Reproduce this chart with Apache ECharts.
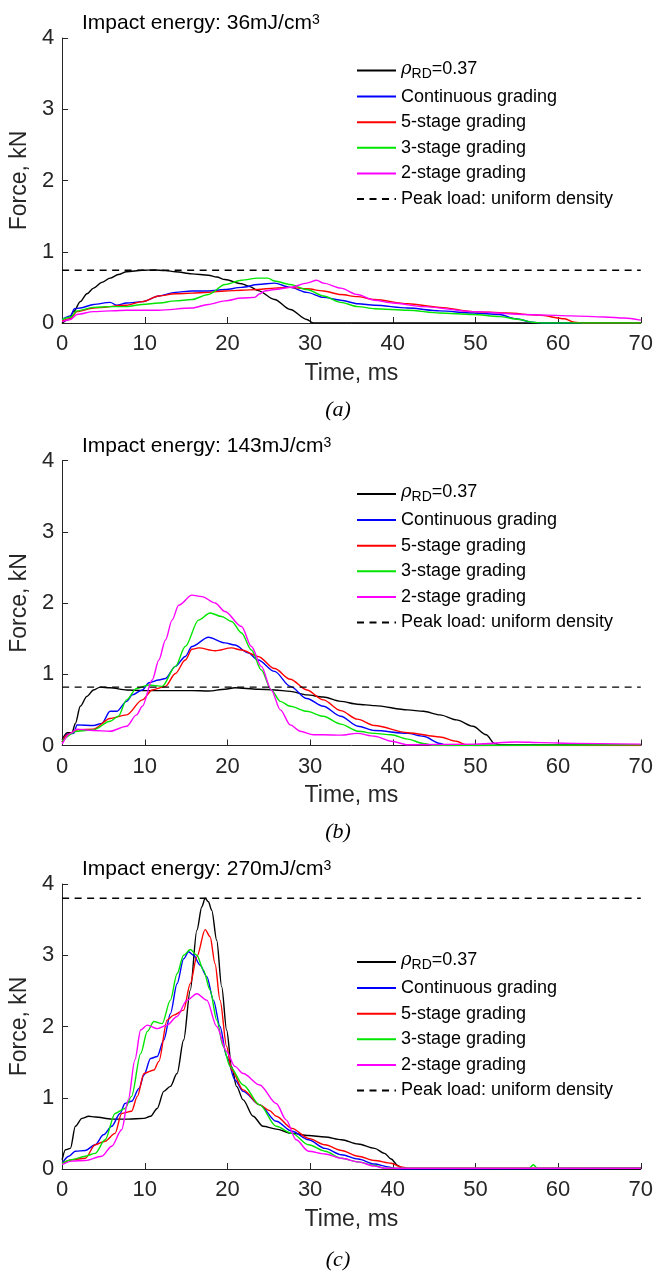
<!DOCTYPE html>
<html>
<head>
<meta charset="utf-8">
<script src="https://cdn.jsdelivr.net/npm/echarts/dist/echarts.min.js"></script>
<style>
html,body{margin:0;padding:0;background:#fff;}
#chart{width:656px;height:1273px;}
</style>
</head>
<body>
<div id="chart"></div>
<script>
// ---------- DATA ----------
const xTicks = [0, 10, 20, 30, 40, 50, 60, 70];
const yTicks = [0, 1, 2, 3, 4];
const seriesNames = ['rho', 'Continuous grading', '5-stage grading', '3-stage grading', '2-stage grading', 'Peak load: uniform density'];
const panelTitles = ['36', '143', '270'];
const panelCaptions = ['(a)', '(b)', '(c)'];
const peakLoads = [0.74, 0.82, 3.8];

// Panel (a): 36 mJ/cm3
const aBlack = [[0,0],[0.8,0.05],[1.4,0.16],[2.2,0.30],[3,0.41],[3.8,0.49],[4.8,0.57],[5.8,0.63],[6.8,0.68],[7.8,0.72],[9.7,0.74],[11,0.745],[12.5,0.735],[13.7,0.72],[15.7,0.69],[17.7,0.67],[18.7,0.645],[19.7,0.61],[21.7,0.55],[22.7,0.51],[23.7,0.455],[25.7,0.33],[27.6,0.19],[29.6,0.05],[30.4,0],[70,0]];
const aBlue = [[0,0.05],[1,0.1],[1.5,0.2],[2.2,0.21],[3.8,0.26],[5.8,0.29],[6.6,0.25],[7.8,0.28],[9.7,0.30],[11.7,0.38],[13.7,0.43],[15.7,0.45],[17.7,0.45],[19.7,0.47],[21.7,0.50],[23.7,0.54],[25.7,0.56],[27.6,0.50],[29.6,0.43],[31.6,0.36],[33.7,0.32],[35.8,0.27],[37.8,0.25],[41.8,0.21],[45.7,0.17],[49.7,0.14],[52.9,0.12],[54.9,0.06],[56.9,0.01],[58,0],[70,0]];
const aRed = [[0,0.03],[1,0.06],[1.8,0.16],[3.8,0.21],[7.8,0.25],[9.7,0.30],[11.7,0.38],[13.7,0.41],[15.7,0.42],[17.7,0.43],[19.7,0.45],[21.7,0.46],[23.7,0.47],[25.7,0.49],[27.6,0.50],[29.6,0.48],[31.6,0.45],[33.7,0.40],[35.7,0.37],[37.8,0.33],[41.8,0.27],[45.7,0.22],[49.7,0.16],[53.7,0.14],[57.7,0.11],[60.8,0.06],[62,0.01],[63,0],[70,0]];
const aGreen = [[0,0.05],[1,0.08],[1.8,0.17],[3.8,0.22],[5.8,0.23],[7.8,0.23],[9.7,0.26],[11.7,0.28],[13.7,0.31],[15.7,0.33],[17.7,0.40],[19.7,0.54],[21.7,0.60],[23.7,0.63],[24.9,0.63],[25.7,0.59],[27.6,0.54],[29.6,0.47],[31.6,0.38],[33.7,0.29],[35.8,0.23],[37.8,0.20],[41.8,0.18],[45.7,0.14],[49.7,0.12],[52.9,0.09],[55.3,0.05],[56.9,0.01],[58,0],[70,0]];
const aMagenta = [[0,0.02],[1,0.05],[1.8,0.12],[3.8,0.16],[7.8,0.18],[11.7,0.18],[15.7,0.21],[17.7,0.26],[19.7,0.31],[21.7,0.35],[23.3,0.36],[23.9,0.41],[24.5,0.45],[25.7,0.47],[27.6,0.50],[29.6,0.56],[30.8,0.60],[31.6,0.56],[33.7,0.49],[35.7,0.40],[37.8,0.32],[40,0.28],[43.7,0.23],[49.7,0.16],[55.7,0.12],[61.6,0.10],[65.6,0.085],[68,0.07],[70,0.04]];

// Panel (b): 143 mJ/cm3
const bBlack = [[0,0.08],[0.6,0.18],[1.2,0.18],[1.6,0.31],[2.2,0.55],[3,0.69],[3.8,0.78],[4.6,0.82],[5.8,0.81],[7.8,0.78],[9.7,0.77],[11.7,0.77],[15.7,0.77],[17.7,0.765],[19.7,0.79],[20.9,0.81],[23.7,0.79],[25.7,0.78],[27.6,0.76],[29.6,0.71],[31.6,0.68],[33.7,0.62],[35.7,0.58],[37.8,0.56],[41.8,0.50],[43.7,0.48],[45.7,0.43],[47.7,0.36],[49.7,0.27],[51.3,0.15],[52.3,0.03],[53,0.01],[70,0.01]];
const bBlue = [[0,0.05],[0.6,0.16],[1.4,0.17],[1.8,0.29],[3.8,0.28],[4.8,0.31],[5.8,0.48],[6.6,0.48],[7.8,0.62],[8.5,0.71],[9.7,0.78],[10.5,0.88],[11.7,0.92],[12.5,0.94],[13.7,1.11],[14.9,1.25],[15.7,1.39],[17.7,1.52],[19.7,1.44],[20.9,1.41],[22.5,1.30],[23.7,1.20],[25.7,1.04],[27.6,0.83],[29.6,0.66],[31.6,0.55],[33.7,0.41],[35.8,0.27],[37.8,0.21],[41.8,0.17],[43.7,0.13],[45.7,0.03],[46.5,0],[70,0.01]];
const bRed = [[0,0.05],[0.6,0.15],[1.8,0.22],[3.8,0.23],[5.8,0.38],[7.8,0.43],[9.7,0.64],[10.9,0.78],[12.5,0.83],[13.7,1.01],[14.9,1.20],[15.7,1.35],[16.5,1.37],[18.5,1.33],[20.5,1.37],[21.7,1.34],[23.7,1.25],[25.7,1.08],[27.6,0.93],[29.6,0.78],[31.6,0.64],[33.7,0.49],[35.7,0.37],[37.8,0.28],[41.8,0.18],[45.7,0.12],[47.7,0.06],[48.9,0.01],[50,0],[70,0]];
const bGreen = [[0,0.06],[1.8,0.20],[3.8,0.22],[5.8,0.34],[6.8,0.41],[7.8,0.64],[9,0.80],[10.5,0.85],[12.1,0.83],[13.7,1.11],[14.9,1.39],[16.5,1.76],[17.9,1.86],[19.3,1.81],[20.5,1.74],[21.7,1.58],[22.9,1.34],[24.1,1.06],[25.3,0.78],[26.4,0.62],[27.6,0.55],[29.6,0.48],[31.6,0.41],[33.7,0.30],[35.8,0.20],[37.8,0.17],[39.8,0.15],[41.8,0.09],[43.7,0.03],[45,0],[70,0.01]];
const bMagenta = [[0,0.02],[1,0.17],[1.8,0.23],[3.8,0.21],[5.8,0.20],[7.8,0.27],[9,0.43],[9.7,0.55],[10.9,0.92],[11.7,1.20],[12.5,1.48],[13.3,1.76],[14.1,1.97],[15.7,2.11],[16.9,2.09],[18.5,2.0],[19.7,1.88],[21.7,1.67],[22.9,1.39],[24.1,1.11],[25.3,0.78],[26.4,0.50],[27.6,0.29],[28.8,0.20],[30.4,0.15],[31.6,0.15],[33.7,0.145],[35.7,0.17],[37.8,0.13],[39.8,0.06],[41.8,0.01],[50,0.02],[55,0.05],[58,0.04],[62,0.03],[70,0.02]];

// Panel (c): 270 mJ/cm3
const cBlack = [[0,0.13],[0.4,0.27],[1,0.29],[1.6,0.60],[2.4,0.71],[3.2,0.74],[4,0.73],[6,0.70],[8,0.70],[9.9,0.71],[10.7,0.74],[11.5,0.85],[12.3,1.09],[13.1,1.16],[13.9,1.34],[14.7,1.81],[15.5,2.51],[16.3,3.35],[16.9,3.68],[17.3,3.8],[17.7,3.75],[18.1,3.63],[18.7,3.21],[19.3,2.56],[19.9,1.95],[20.5,1.44],[21.1,1.16],[21.9,0.97],[23.1,0.74],[24.3,0.60],[25.9,0.56],[27.8,0.50],[29.8,0.47],[31.8,0.45],[33.8,0.41],[35.8,0.35],[37.8,0.29],[39,0.22],[39.8,0.14],[40.6,0.05],[41.2,0],[70,0]];
const cBlue = [[0,0.08],[0.8,0.18],[1.6,0.25],[2.8,0.26],[4,0.34],[5,0.48],[6,0.60],[7,0.78],[7.6,0.92],[8.4,0.95],[9.3,1.13],[9.9,1.32],[10.7,1.55],[11.5,1.58],[12.3,1.81],[13.1,2.18],[13.9,2.60],[14.7,2.95],[15.3,3.05],[15.9,3.0],[16.7,2.86],[17.5,2.70],[18.3,2.37],[19.1,2.0],[19.9,1.58],[20.9,1.25],[21.9,1.09],[23.9,0.90],[25.9,0.67],[27.8,0.53],[29.8,0.41],[31.8,0.29],[33.8,0.20],[35.8,0.14],[37.8,0.07],[39.4,0.03],[40.5,0],[70,0.01]];
const cRed = [[0,0.08],[1.2,0.13],[2.8,0.15],[4,0.34],[5.2,0.39],[6.4,0.50],[7.2,0.78],[8.4,0.81],[9.1,1.02],[9.9,1.34],[11.1,1.39],[11.7,1.51],[12.7,2.09],[13.5,2.16],[14.7,2.23],[15.5,2.60],[16.3,2.98],[17.3,3.36],[17.9,3.26],[18.5,2.88],[19.1,2.37],[19.9,1.72],[20.5,1.39],[21.9,1.11],[23.9,0.90],[25.1,0.82],[25.9,0.74],[27.8,0.57],[29.8,0.43],[31.8,0.34],[33.8,0.26],[35.8,0.18],[37.8,0.12],[39.8,0.08],[41,0.03],[42,0.01],[70,0.01]];
const cGreen = [[0,0.08],[1.2,0.13],[2.8,0.18],[4,0.22],[5.2,0.41],[6.4,0.78],[7.6,0.85],[8.4,1.02],[9.5,1.62],[10.3,1.93],[11.1,2.07],[12.1,2.04],[13.1,2.37],[13.9,2.74],[14.7,3.0],[15.5,3.08],[16.3,3.0],[17.1,2.79],[17.9,2.51],[18.7,2.09],[19.5,1.72],[20.3,1.44],[21.9,1.18],[23.9,0.90],[25.9,0.60],[27.8,0.50],[29.8,0.34],[31.8,0.25],[33.8,0.15],[35.8,0.10],[37.8,0.05],[39,0.01],[56.5,0.01],[57,0.06],[57.5,0.01],[70,0.01]];
const cMagenta = [[0,0.06],[1.2,0.11],[2.8,0.12],[4.8,0.18],[6,0.32],[7.2,0.55],[8,0.97],[8.8,1.53],[9.5,1.95],[10.3,2.02],[11.5,1.97],[12.7,2.02],[13.9,2.14],[15.1,2.37],[16.3,2.46],[17.5,2.37],[18.7,2.0],[19.9,1.65],[20.9,1.44],[21.9,1.34],[23.9,1.18],[25.9,0.92],[27.1,0.69],[28.3,0.41],[29.8,0.25],[31.8,0.21],[33.8,0.15],[35.8,0.10],[37.8,0.04],[39,0.01],[70,0.01]];

const panels = [
  [aBlack, aBlue, aRed, aGreen, aMagenta],
  [bBlack, bBlue, bRed, bGreen, bMagenta],
  [cBlack, cBlue, cRed, cGreen, cMagenta]
];

// ---------- STYLE / LAYOUT ----------
const colors = ['#000000', '#0000ff', '#ff0000', '#00e600', '#ff00ff', '#000000'];
const gridTops = [38, 460.5, 884];
const gridHeight = 285;
const gridLeft = 57, gridWidth = 587.5;
const legendTops = [53, 476.5, 944.5];
const titleTops = [13, 436, 859];
const captionY = [410, 832, 1260];
const axisColor = '#262626';
const sans = 'Liberation Sans, Arial, Helvetica, sans-serif';

const chart = echarts.init(document.getElementById('chart'), null, {renderer: 'canvas'});

const grids = [], xAxes = [], yAxes = [], series = [], legends = [], titles = [], graphics = [];

for (let p = 0; p < 3; p++) {
  grids.push({left: gridLeft, top: gridTops[p], width: gridWidth, height: gridHeight, containLabel: false});
  xAxes.push({
    type: 'value', gridIndex: p, min: xTicks[0], max: xTicks[xTicks.length - 1], interval: 10,
    name: 'Time, ms', nameLocation: 'middle', nameGap: 39,
    nameTextStyle: {fontFamily: sans, fontSize: 23, color: axisColor},
    axisLine: {show: true, onZero: false, lineStyle: {color: axisColor, width: 1}},
    axisTick: {show: true, inside: true, length: 6, lineStyle: {color: axisColor}},
    axisLabel: {fontFamily: sans, fontSize: 22, color: axisColor, margin: 10},
    splitLine: {show: false}
  });
  yAxes.push({
    type: 'value', gridIndex: p, min: yTicks[0], max: yTicks[yTicks.length - 1], interval: 1,
    name: 'Force, kN', nameLocation: 'middle', nameGap: 13,
    nameTextStyle: {fontFamily: sans, fontSize: 23, color: axisColor},
    axisLine: {show: true, lineStyle: {color: axisColor, width: 1}},
    axisTick: {show: true, inside: true, length: 6, lineStyle: {color: axisColor}},
    axisLabel: {fontFamily: sans, fontSize: 22, color: axisColor, margin: 8},
    splitLine: {show: false}
  });
  const curves = panels[p];
  for (let s = 0; s < 5; s++) {
    series.push({
      type: 'line', name: seriesNames[s], xAxisIndex: p, yAxisIndex: p,
      data: curves[s], symbol: 'none', smooth: 0.3, smoothMonotone: 'x',
      lineStyle: {color: colors[s], width: 1.4}, itemStyle: {color: colors[s]},
      silent: true
    });
  }
  series.push({
    type: 'line', name: seriesNames[5], xAxisIndex: p, yAxisIndex: p,
    data: [[xTicks[0], peakLoads[p]], [xTicks[xTicks.length - 1], peakLoads[p]]],
    symbol: 'none', lineStyle: {color: '#000', width: 1.4, type: [7, 5.5]}, itemStyle: {color: '#000'},
    silent: true
  });
  legends.push({
    orient: 'vertical', left: 356, top: legendTops[p], padding: 0, itemGap: 5.6,
    itemWidth: 39, itemHeight: 14, selectedMode: false,
    itemStyle: {opacity: 0},
    data: seriesNames,
    formatter: function (n) { return n === 'rho' ? '{r|\u03c1}{s|RD}{n|=0.37}' : n; },
    textStyle: {
      fontFamily: sans, fontSize: 18, color: '#000', lineHeight: 20, padding: [0, 0, 0, 0],
      rich: {
        r: {fontFamily: 'DejaVu Serif, Liberation Serif, serif', fontStyle: 'italic', fontSize: 18, lineHeight: 21, verticalAlign: 'top', color: '#000'},
        s: {fontFamily: sans, fontSize: 14, lineHeight: 14, padding: [14, 0, 0, 0], verticalAlign: 'bottom', color: '#000'},
        n: {fontFamily: sans, fontSize: 18, lineHeight: 21, verticalAlign: 'top', color: '#000'}
      }
    }
  });
  titles.push({
    text: '{t|Impact energy: ' + panelTitles[p] + 'mJ/cm}{s|3}',
    left: 82, top: titleTops[p], padding: 0,
    textStyle: {
      fontWeight: 'normal',
      rich: {
        t: {fontFamily: sans, fontSize: 21, fontWeight: 'normal', lineHeight: 25, verticalAlign: 'top', color: '#000'},
        s: {fontFamily: sans, fontSize: 14, fontWeight: 'normal', lineHeight: 14, verticalAlign: 'top', color: '#000'}
      }
    }
  });
  graphics.push({
    type: 'text', x: 338, y: captionY[p],
    style: {text: panelCaptions[p], font: 'italic 22px "Liberation Serif", "DejaVu Serif", serif', fill: '#000', textAlign: 'center', textVerticalAlign: 'middle'}
  });
}

chart.setOption({
  animation: false,
  backgroundColor: '#ffffff',
  title: titles,
  legend: legends,
  grid: grids,
  xAxis: xAxes,
  yAxis: yAxes,
  series: series,
  graphic: graphics
});
</script>
</body>
</html>
